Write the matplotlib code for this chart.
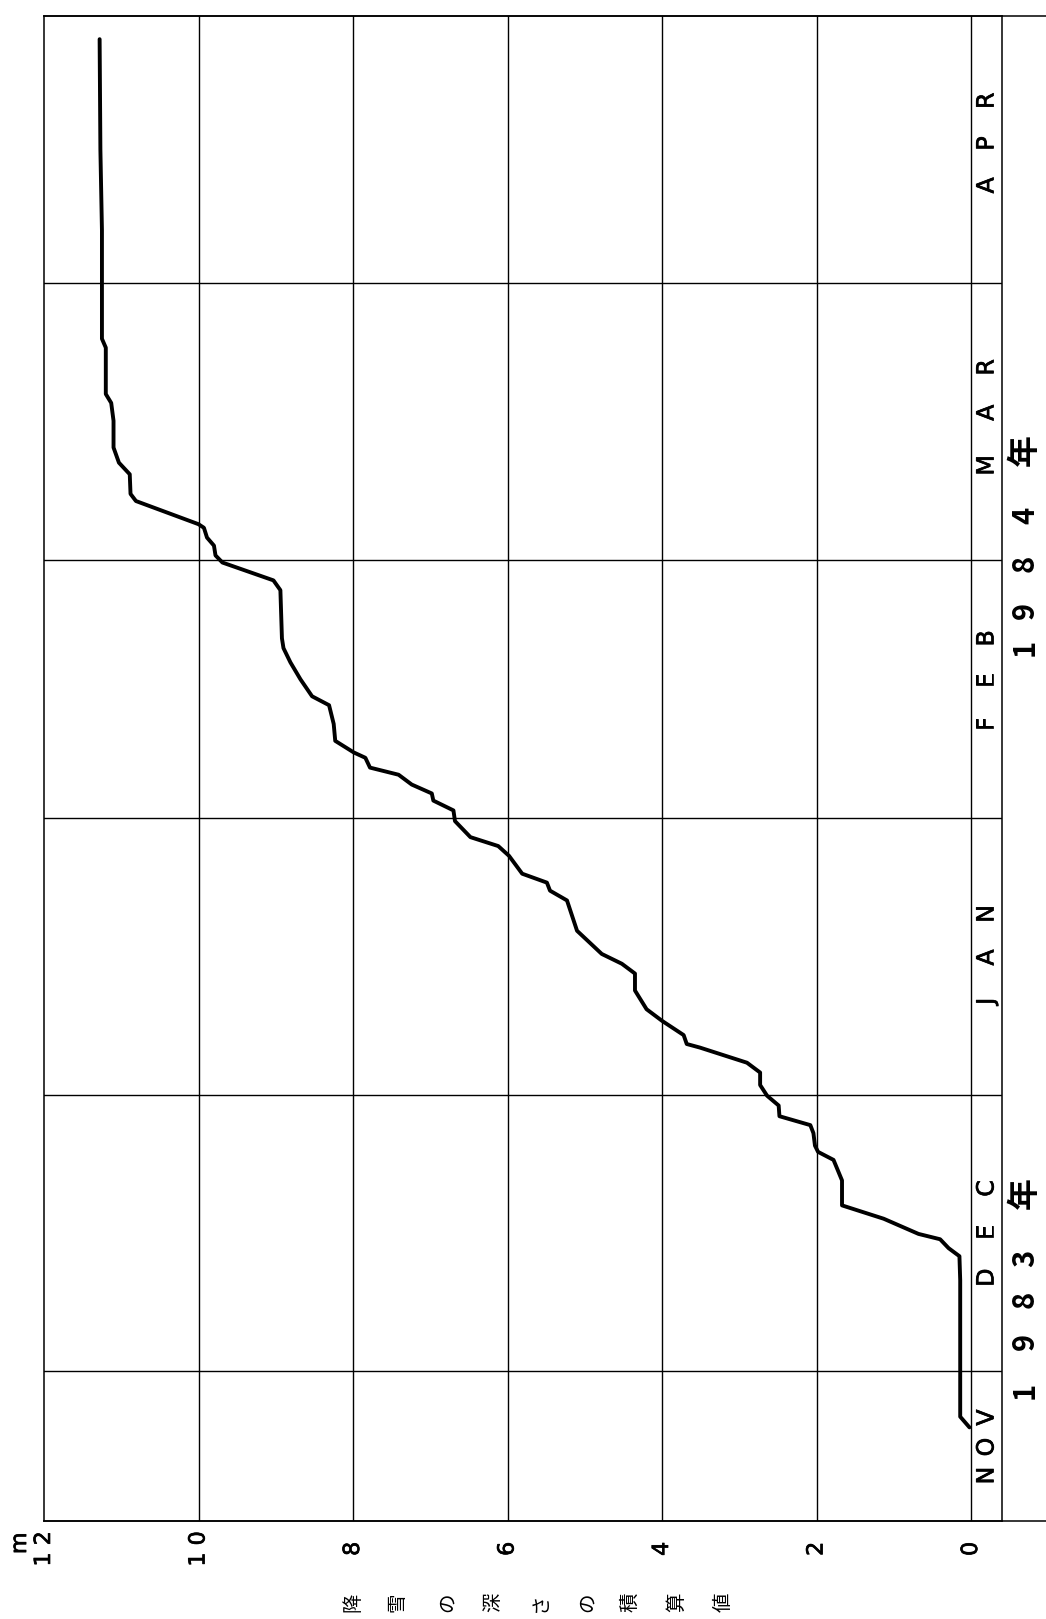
import matplotlib
matplotlib.use("Agg")
import matplotlib.pyplot as plt
import matplotlib.patheffects as pe
from matplotlib.transforms import blended_transform_factory

# ---------------- data ----------------
# days since 1983-12-01, cumulative snowfall depth (m)
days = [-6.3, -5.1, -4.2, 4.2, 10.2, 12.9, 13.8, 14.8, 15.4, 17.1, 18.6, 21.4,
        23.7, 24.6, 25.3, 26.7, 27.6, 28.6, 29.8, 30.9, 32.1, 33.5, 34.6, 36.3,
        36.7, 37.7, 39.3, 40.6, 42.7, 44.6, 45.7, 46.8, 49.4, 52.8, 53.9, 54.8,
        55.8, 57.8, 58.9, 59.9, 61.7, 62.9, 64.0, 64.8, 65.8, 66.9, 67.7, 68.8,
        69.4, 70.7, 72.6, 74.7, 75.7, 77.6, 79.5, 81.1, 82.2, 87.6, 88.7, 90.7,
        91.5, 92.6, 93.5, 94.6, 95.0, 97.6, 98.4, 100.6, 101.9, 103.6, 106.6,
        108.6, 109.6, 114.8, 115.8, 128.0, 137.0, 149.4]
depth = [0.02, 0.14, 0.14, 0.14, 0.14, 0.15, 0.29, 0.40, 0.68, 1.13, 1.67, 1.67,
         1.78, 1.98, 2.02, 2.04, 2.08, 2.48, 2.49, 2.64, 2.73, 2.73, 2.90, 3.51,
         3.68, 3.72, 4.00, 4.20, 4.35, 4.35, 4.52, 4.78, 5.10, 5.23, 5.45, 5.49,
         5.81, 5.98, 6.12, 6.48, 6.68, 6.70, 6.96, 6.98, 7.24, 7.41, 7.78, 7.84,
         7.99, 8.23, 8.25, 8.31, 8.53, 8.68, 8.81, 8.90, 8.92, 8.94, 9.03, 9.69,
         9.78, 9.80, 9.89, 9.93, 10.00, 10.81, 10.88, 10.89, 11.03, 11.10, 11.10,
         11.13, 11.20, 11.20, 11.25, 11.25, 11.27, 11.28]

month_bounds = [0, 31, 62, 91, 122]          # Dec 1, Jan 1, Feb 1, Mar 1, Apr 1
month_names = ["NOV", "DEC", "JAN", "FEB", "MAR", "APR"]
value_ticks = [0, 2, 4, 6, 8, 10, 12]
tick_labels = ["0", "2", "4", "6", "8", "1 0", "1 2"]
year_1983 = ["1", "9", "8", "3", "年"]
year_1984 = ["1", "9", "8", "4", "年"]
axis_title = ["降", "雪", "の", "深", "さ", "の", "積", "算", "値"]

# ---------------- layout ----------------
W, H = 1046, 1619
fig = plt.figure(figsize=(W / 100, H / 100), dpi=100)
fig.patch.set_facecolor("white")
ax = fig.add_axes([44 / W, 98 / H, 958 / W, 1505 / H])
X_LEFT, X_RIGHT = 12.0, -0.401
Y_BOT, Y_TOP = -16.8, 152.0
ax.set_xlim(X_LEFT, X_RIGHT)
ax.set_ylim(Y_BOT, Y_TOP)
ax.set_xticks([])
ax.set_yticks([])
for s in ax.spines.values():
    s.set_linewidth(1.1)
    s.set_color("black")

grid_lw = 1.0
for v in value_ticks[:-1]:
    ax.axvline(v, color="black", lw=grid_lw)
for d in month_bounds:
    ax.axhline(d, color="black", lw=grid_lw)
# top & bottom lines run to the page edge
ax.axhline(Y_TOP, xmin=0, xmax=1.046, color="black", lw=1.1, clip_on=False)
ax.axhline(Y_BOT, xmin=0, xmax=1.046, color="black", lw=1.1, clip_on=False)

# curve
ax.plot(depth, days, color="black", lw=2.8, solid_joinstyle="round",
        solid_capstyle="round")

thick = [pe.withStroke(linewidth=0.5, foreground="black")]

# month letters (rotated page: letters read bottom -> top)
month_letter_days = [[-11.7, -8.5, -5.2],
                     [10.5, 15.6, 20.5],
                     [41.5, 46.4, 51.3],
                     [72.6, 77.5, 82.2],
                     [101.6, 107.5, 112.6],
                     [133.0, 137.7, 142.5]]
for name, dpos in zip(month_names, month_letter_days):
    for ch, d in zip(name, dpos):
        ax.text(-0.2, d, ch, rotation=90, ha="center", va="center",
                fontsize=17, family="DejaVu Sans", color="black",
                path_effects=thick)

# year labels outside the frame
cjk = ["Noto Sans CJK JP", "DejaVu Sans"]
for chars, dpos in [(year_1983, [-2.1, 3.3, 8.1, 12.7, 20.0]),
                    (year_1984, [81.2, 85.3, 90.6, 96.0, 103.3])]:
    for ch, d in zip(chars, dpos):
        ax.text(-0.70, d, ch, rotation=90, ha="center", va="center",
                fontsize=21 if ch != "年" else 23, family=cjk, color="black",
                clip_on=False, fontweight="bold")

# value tick labels below the frame
trans = blended_transform_factory(ax.transData, ax.transAxes)
for v, lab in zip(value_ticks, tick_labels):
    ax.text(v, -0.0185, lab, transform=trans, rotation=90, ha="center",
            va="center", fontsize=16, family="DejaVu Sans", color="black",
            path_effects=thick)
ax.text(12.31, -0.0148, "m", transform=trans, rotation=90, ha="center",
        va="center", fontsize=16, family="DejaVu Sans", color="black",
        path_effects=thick)

# axis title: characters spread along the bottom, each rotated
title_px = [353, 397, 447, 493, 540, 587, 630, 677, 723]
for ch, px in zip(axis_title, title_px):
    fig.text(px / W, 1 - 1602 / H, ch, rotation=90, ha="center", va="center",
             fontsize=14, family=cjk, color="black")

fig.savefig("out.png", dpi=100, facecolor="white")
